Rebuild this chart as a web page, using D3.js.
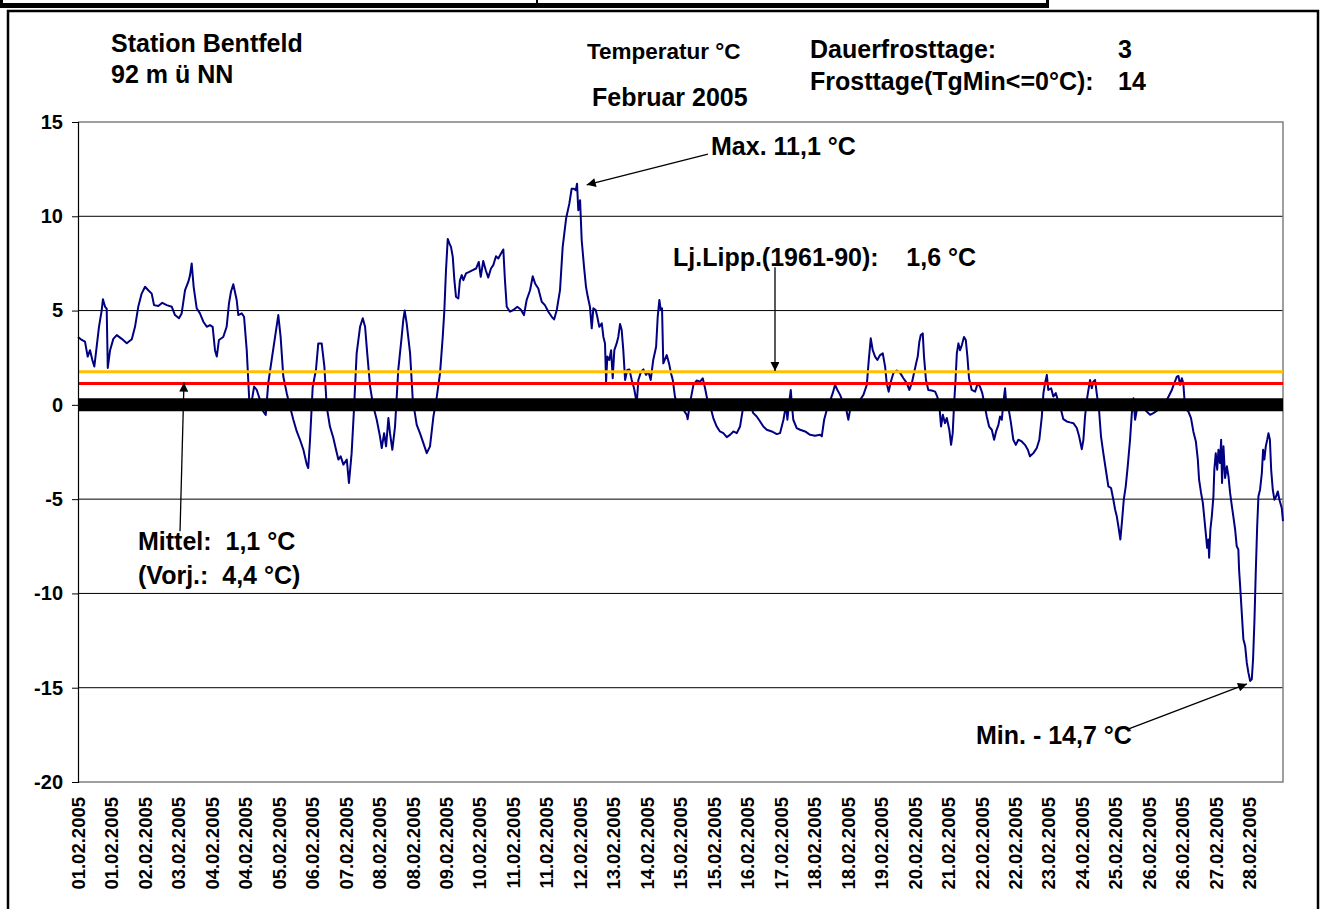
<!DOCTYPE html>
<html>
<head>
<meta charset="utf-8">
<script src="https://cdn.jsdelivr.net/npm/d3@7"></script>
<style>
  body { margin: 0; background: #fff; }
  svg { display: block; font-family: "Liberation Sans", Arial, sans-serif; font-weight: bold; }
  .note { white-space: pre; fill: #000; }
</style>
</head>
<body>
<svg id="chart" width="1325" height="909"></svg>
<script>
// hours since 01.02.2005 00:00 and temperature (°C)
const hours = [
  0, 2.1, 3.9, 5.4, 6.7, 8.0, 9.1, 10.4, 11.7, 13.2, 13.9, 15.1, 16.0, 16.6, 17.9, 19.7, 21.6, 24.4, 27.2, 30.0,
  31.8, 33.6, 35.5, 37.4, 39.2, 41.1, 42.4, 44.8, 47.0, 49.5, 52.3, 54.1, 56.3, 57.8, 59.7, 61.5, 62.5, 63.4, 64.5, 66.2,
  68.0, 69.9, 71.8, 73.6, 75.1, 76.4, 77.4, 78.6, 81.0, 82.9, 84.2, 85.3, 86.6, 88.5, 89.4, 91.3, 92.6, 94.1, 95.5, 96.9,
  98.2, 99.7, 101.5, 103.3, 104.7, 106.1, 108.0, 109.9, 111.7, 113.0, 114.5, 116.4, 118.2, 120.1, 122.0, 123.8, 125.7, 127.6, 128.4, 129.4,
  130.9, 132.7, 134.0, 135.9, 137.4, 138.7, 140.5, 142.4, 143.9, 145.2, 146.5, 148.0, 149.9, 151.1, 152.6, 153.9, 155.4, 157.3, 158.8, 160.1,
  161.3, 162.9, 164.7, 166.6, 168.4, 169.4, 170.7, 171.8, 173.1, 174.0, 175.3, 176.8, 178.6, 180.5, 181.4, 182.2, 183.3, 185.2, 186.7, 188.9,
  190.7, 192.6, 194.5, 196.3, 198.2, 200.1, 201.9, 203.4, 204.3, 205.2, 206.2, 207.1, 208.0, 209.0, 209.9, 210.8, 212.1, 213.0, 214.0, 214.9,
  216.4, 218.2, 220.1, 222.0, 223.5, 224.6, 226.0, 227.4, 228.8, 230.3, 231.6, 233.1, 234.4, 235.9, 237.2, 238.1, 239.1, 240.9, 242.8, 245.0,
  246.9, 248.7, 250.2, 252.1, 253.6, 254.9, 256.7, 258.6, 260.4, 262.3, 264.2, 265.5, 267.0, 268.8, 270.3, 272.2, 274.0, 275.3, 276.6, 277.6,
  278.3, 279.0, 280.0, 280.9, 282.2, 283.3, 284.3, 285.5, 286.5, 287.4, 288.7, 289.6, 290.7, 292.1, 293.0, 293.9, 294.5, 295.2, 296.3, 297.3,
  298.2, 299.1, 300.4, 301.3, 302.3, 303.2, 304.1, 305.1, 306.3, 307.5, 308.8, 310.1, 311.6, 312.5, 314.0, 315.3, 316.8, 318.1, 319.4, 320.8,
  322.4, 323.3, 324.2, 325.0, 325.7, 326.4, 328.3, 329.6, 330.7, 331.7, 332.9, 334.2, 335.7, 337.6, 339.5, 340.0, 341.3, 343.2, 345.0, 346.9,
  348.4, 349.7, 351.0, 352.9, 354.3, 356.2, 358.0, 359.9, 361.8, 363.6, 365.5, 367.4, 369.2, 371.0, 372.6, 373.8, 375.2, 376.6, 378.5, 380.4,
  382.2, 384.1, 386.9, 389.7, 391.5, 393.4, 394.9, 395.6, 396.7, 397.5, 398.2, 398.9, 400.8, 402.7, 405.5, 408.3, 411.0, 413.8, 414.8, 416.1,
  417.6, 419.0, 420.9, 422.2, 423.5, 425.0, 426.8, 428.3, 429.6, 430.9, 432.4, 434.3, 436.1, 438.0, 439.9, 441.0, 442.1, 443.2, 444.5, 445.8,
  447.3, 448.8, 450.1, 451.0, 452.1, 453.3, 454.7, 456.6, 458.4, 460.3, 462.2, 463.6, 465.0, 466.2, 467.4, 468.3, 469.2, 470.0, 471.1, 471.8,
  472.9, 474.2, 476.1, 478.0, 479.2, 480.4, 481.3, 482.3, 483.5, 484.5, 485.9, 486.9, 487.8, 488.6, 489.3, 490.1, 491.0, 491.9, 492.9, 494.1,
  495.1, 496.0, 496.9, 498.4, 500.3, 501.8, 503.0, 504.3, 505.4, 506.8, 508.1, 509.6, 510.9, 512.0, 513.3, 514.2, 515.2, 516.0, 517.0, 517.9,
  518.8, 520.3, 521.6, 523.0, 524.4, 526.3, 528.1, 529.7, 530.9, 532.8, 534.7, 536.1, 537.5, 538.4, 539.3, 540.3, 541.1, 542.7, 543.9, 545.3,
  546.7, 548.2, 549.5, 551.4, 553.2, 555.1, 557.0, 558.3, 559.8, 560.7, 561.6, 562.6, 563.5, 564.4, 565.4, 566.2, 567.2, 568.1, 569.4, 570.5,
  571.8, 573.2, 574.6, 576.1, 577.4, 578.4, 579.3, 580.2, 581.3, 582.3, 583.2, 584.3, 585.4, 586.7, 587.7, 588.6, 589.5, 590.5, 591.7, 592.9,
  594.1, 596.0, 597.9, 599.7, 602.5, 605.3, 607.7, 610.0, 611.4, 612.8, 613.7, 614.6, 615.6, 616.4, 617.4, 619.2, 620.7, 622.0, 623.4, 624.5,
  625.2, 626.3, 627.3, 628.2, 629.1, 629.7, 630.4, 630.8, 631.5, 632.3, 633.2, 633.7, 634.5, 635.3, 636.0, 636.8, 637.5, 638.0, 638.8, 639.7,
  640.7, 641.6, 642.5, 643.5, 644.3, 645.3, 646.2, 647.1, 647.5, 648.1, 649.0, 649.9, 650.9, 651.8, 652.7, 653.7, 654.6, 655.3, 656.1, 656.8,
  657.6, 658.3, 659.2, 660.2, 660.9, 661.6, 662.4, 663.2, 663.9, 664.7, 665.4, 666.3, 667.2, 668.2, 669.1, 670.0, 671.3, 672.0
];
const temps = [
  3.6, 3.44, 3.35, 2.56, 2.9, 2.38, 2.03, 3.08, 4.14, 5.0, 5.6, 5.2, 5.1, 1.96, 2.9, 3.5, 3.7, 3.5, 3.27, 3.48,
  4.14, 5.2, 5.9, 6.26, 6.08, 5.9, 5.29, 5.24, 5.41, 5.29, 5.2, 4.76, 4.59, 4.85, 6.08, 6.52, 6.88, 7.5, 6.26, 5.12,
  4.85, 4.41, 4.14, 4.23, 4.14, 2.9, 2.56, 3.44, 3.6, 4.14, 5.38, 6.0, 6.4, 5.56, 4.76, 4.85, 4.67, 2.9, 0.26, 0.18,
  0.97, 0.79, 0.26, -0.35, -0.53, 1.15, 2.38, 3.6, 4.76, 3.6, 1.5, 0.62, -0.09, -0.79, -1.41, -1.85, -2.38, -3.17, -3.35, -1.85,
  0.97, 1.85, 3.26, 3.26, 2.03, -0.09, -1.15, -1.76, -2.38, -2.9, -2.73, -3.17, -2.9, -4.14, -2.56, -0.26, 2.73, 4.14, 4.59, 4.14,
  2.73, 0.97, -0.09, -0.79, -1.67, -2.29, -1.5, -2.2, -0.7, -1.5, -2.38, -1.15, 1.85, 3.6, 4.5, 5.0, 4.32, 2.73, 0.26, -1.06,
  -1.5, -2.03, -2.56, -2.2, -0.62, 0.44, 1.68, 3.6, 5.0, 7.1, 8.8, 8.56, 8.38, 7.85, 6.61, 5.73, 5.64, 6.61, 6.88, 6.61,
  6.97, 7.05, 7.14, 7.23, 7.58, 6.79, 7.63, 7.14, 6.75, 7.23, 7.41, 7.88, 7.76, 8.03, 8.24, 6.61, 5.2, 4.94, 5.03, 5.2,
  5.06, 4.76, 5.56, 6.08, 6.82, 6.44, 6.17, 5.47, 5.29, 4.94, 4.67, 4.53, 5.03, 6.08, 8.38, 9.88, 10.67, 11.46, 11.46, 11.38,
  11.73, 10.32, 10.85, 8.73, 7.32, 6.26, 5.73, 5.2, 4.06, 5.12, 5.03, 4.67, 4.14, 4.32, 3.6, 3.26, 1.23, 2.56, 2.38, 2.9,
  1.41, 2.9, 3.26, 3.6, 4.29, 3.97, 2.9, 1.32, 1.85, 1.88, 1.32, 0.88, 0.09, 1.32, 1.76, 1.88, 1.59, 1.76, 1.32, 2.38,
  3.08, 4.67, 5.56, 5.03, 5.12, 2.2, 2.64, 2.2, 1.68, 1.32, 0.44, -0.09, 0, -0.26, -0.53, -0.76, 0.09, 1.06, 1.29, 1.23,
  1.41, 0.88, 0.26, -0.18, -0.7, -1.15, -1.41, -1.5, -1.71, -1.59, -1.41, -1.5, -1.15, -0.09, 0.09, -0.26, -0.09, -0.44, -0.62, -0.88,
  -1.15, -1.32, -1.41, -1.55, -1.5, -0.79, 0, -0.79, 0.18, 0.79, -0.09, -0.79, -1.23, -1.32, -1.41, -1.59, -1.64, -1.59, -1.67, -0.79,
  -0.26, 0.09, 0.62, 1.06, 0.79, 0.53, 0.09, -0.18, -0.79, -0.09, -0.18, 0.09, 0.26, 0.53, 1.06, 2.38, 3.53, 2.9, 2.56, 2.38,
  2.64, 2.73, 2.03, 1.15, 0.7, 1.23, 1.68, 1.82, 1.71, 1.41, 1.15, 0.79, 1.15, 1.68, 2.2, 2.56, 3.35, 3.7, 3.79, 2.56,
  1.32, 0.79, 0.76, 0.7, 0.44, -0.09, -1.15, -0.53, -0.97, -0.7, -1.32, -2.12, -1.5, 0.09, 1.15, 2.73, 3.26, 2.9, 3.17, 3.6,
  3.44, 2.56, 1.41, 0.79, 0.7, 1.15, 0.97, 0.62, 0.09, -0.62, -1.15, -1.32, -1.85, -1.41, -1.06, -0.62, -0.79, 0.09, 0.88, -0.26,
  -0.09, -0.97, -1.85, -2.12, -1.85, -1.94, -2.12, -2.38, -2.73, -2.56, -2.29, -1.85, -0.62, 0.62, 1.15, 1.59, 0.79, 0.88, 0.44, 0.62,
  0.18, -0.26, -0.76, -0.88, -0.93, -0.97, -1.23, -1.67, -2.35, -1.85, -0.62, 0.26, 0.79, 1.32, 0.88, 1.23, 1.32, 0.62, -0.26, -1.67,
  -2.56, -3.44, -4.32, -4.41, -5.03, -5.56, -5.91, -6.44, -7.14, -6.08, -5.03, -4.32, -3.26, -1.85, -0.44, 0.35, -0.79, -0.26, -0.09, 0.05,
  -0.18, -0.35, -0.53, -0.44, -0.26, 0, 0.35, 0.79, 1.15, 1.5, 1.53, 1.06, 1.41, 1.15, -0.18, -0.35, -0.7, -1.41, -1.94, -2.9,
  -3.97, -4.67, -5.2, -6.08, -6.97, -7.58, -7.14, -8.11, -6.61, -5.91, -4.85, -3.44, -2.56, -3.44, -2.38, -3.08, -1.85, -4.14, -2.2, -3.88,
  -3.26, -3.79, -4.67, -5.38, -5.91, -6.61, -7.5, -7.67, -8.73, -9.61, -11.02, -12.43, -12.79, -13.67, -14.2, -14.64, -14.55, -13.5, -11.38, -8.91,
  -6.44, -4.85, -4.5, -3.62, -2.38, -2.9, -2.2, -1.85, -1.5, -1.85, -3.44, -4.5, -5.03, -4.85, -4.59, -5.03, -5.47, -6.17
];

const tickLabels = [
  '01.02.2005', '01.02.2005', '02.02.2005', '03.02.2005', '04.02.2005', '04.02.2005', '05.02.2005', '06.02.2005', '07.02.2005',
  '08.02.2005', '08.02.2005', '09.02.2005', '10.02.2005', '11.02.2005', '11.02.2005', '12.02.2005', '13.02.2005', '14.02.2005',
  '15.02.2005', '15.02.2005', '16.02.2005', '17.02.2005', '18.02.2005', '18.02.2005', '19.02.2005', '20.02.2005', '21.02.2005',
  '22.02.2005', '22.02.2005', '23.02.2005', '24.02.2005', '25.02.2005', '26.02.2005', '26.02.2005', '27.02.2005', '28.02.2005'
];
const yTicks = [-20, -15, -10, -5, 0, 5, 10, 15];

// reference lines as drawn in the picture
const ljLippLevel = 1.75;
const mittelLevel = 1.13;

const width = 1325, height = 909;
const plot = { left: 78, right: 1283, top: 122, bottom: 782 };

const svg = d3.select('#chart');

const x = d3.scaleLinear().domain([0, 672]).range([plot.left, plot.right]);
const y = d3.scaleLinear().domain([-20, 15]).range([plot.bottom, plot.top]);

// cut-off title box and outer frame
svg.append('rect').attr('x', 0).attr('y', 3).attr('width', 1049).attr('height', 5).attr('fill', '#000');
svg.append('rect').attr('x', 0).attr('y', 0).attr('width', 3).attr('height', 8).attr('fill', '#000');
svg.append('rect').attr('x', 1046).attr('y', 0).attr('width', 3).attr('height', 8).attr('fill', '#000');
svg.append('rect').attr('x', 536).attr('y', 0).attr('width', 2).attr('height', 5).attr('fill', '#000');
svg.append('rect')
    .attr('x', 8).attr('y', 11)
    .attr('width', 1310).attr('height', 920)
    .attr('fill', 'none').attr('stroke', '#000').attr('stroke-width', 2.5);

// grid lines
svg.append('g')
    .selectAll('line')
    .data(yTicks.filter(d => d !== -20 && d !== 15 && d !== 0))
    .enter()
    .append('line')
    .attr('x1', plot.left).attr('x2', plot.right)
    .attr('y1', d => y(d)).attr('y2', d => y(d))
    .attr('stroke', '#000').attr('stroke-width', 1);

// plot border (grey)
svg.append('path')
    .attr('d', 'M' + plot.left + ',' + plot.top + 'H' + plot.right + 'V' + plot.bottom + 'H' + plot.left)
    .attr('fill', 'none').attr('stroke', '#808080').attr('stroke-width', 1.5);

// temperature line
const line = d3.line()
    .x((d, i) => x(hours[i]))
    .y(d => y(d));

svg.append('path')
    .datum(temps)
    .attr('d', line)
    .attr('fill', 'none')
    .attr('stroke', '#000080')
    .attr('stroke-width', 2)
    .attr('stroke-linejoin', 'round');

// reference lines
svg.append('line')
    .attr('x1', plot.left).attr('x2', plot.right)
    .attr('y1', y(ljLippLevel)).attr('y2', y(ljLippLevel))
    .attr('stroke', '#FFC000').attr('stroke-width', 3);
svg.append('line')
    .attr('x1', plot.left).attr('x2', plot.right)
    .attr('y1', y(mittelLevel)).attr('y2', y(mittelLevel))
    .attr('stroke', '#FF0000').attr('stroke-width', 3);

// thick zero line (category axis)
svg.append('line')
    .attr('x1', plot.left).attr('x2', plot.right)
    .attr('y1', y(0)).attr('y2', y(0))
    .attr('stroke', '#000').attr('stroke-width', 13);

// y axis
const yAxis = d3.axisLeft(y)
    .tickValues(yTicks)
    .tickSize(6)
    .tickPadding(9)
    .tickFormat(d3.format('d'));

const yG = svg.append('g')
    .attr('transform', 'translate(' + plot.left + ',0)')
    .call(yAxis);
yG.select('.domain').attr('stroke', '#000').attr('stroke-width', 1.2);
yG.selectAll('.tick line').attr('stroke', '#000');
yG.selectAll('.tick text')
    .attr('font-size', '20px')
    .attr('font-weight', 'bold')
    .attr('font-family', '"Liberation Sans", Arial, sans-serif')
    .attr('fill', '#000')
    .text(d => d < 0 ? '-' + Math.abs(d) : d);

// x labels (rotated)
const step = 672 / tickLabels.length;
svg.append('g')
    .selectAll('text')
    .data(tickLabels)
    .enter()
    .append('text')
    .attr('transform', (d, i) => 'translate(' + (x(i * step) + 6.8) + ',797) rotate(-90)')
    .attr('text-anchor', 'end')
    .attr('font-size', '18.5px')
    .text(d => d);

// arrows (endpoints in data units: hours, °C)
svg.append('defs').append('marker')
    .attr('id', 'head')
    .attr('viewBox', '0 0 10 10')
    .attr('refX', 10).attr('refY', 5)
    .attr('markerWidth', 11).attr('markerHeight', 9)
    .attr('markerUnits', 'userSpaceOnUse')
    .attr('orient', 'auto')
    .append('path')
    .attr('d', 'M0,0L10,5L0,10Z')
    .attr('fill', '#000');

const arrows = [
  { from: [351.3, 13.3], to: [283.7, 11.67] },
  { from: [388.7, 7.3], to: [388.7, ljLippLevel + 0.05] },
  { from: [56.9, -6.7], to: [59.1, mittelLevel + 0.05] },
  { from: [585.6, -17.2], to: [651.9, -14.8] }
];

svg.append('g')
    .selectAll('line')
    .data(arrows)
    .enter()
    .append('line')
    .attr('x1', d => x(d.from[0])).attr('y1', d => y(d.from[1]))
    .attr('x2', d => x(d.to[0])).attr('y2', d => y(d.to[1]))
    .attr('stroke', '#000').attr('stroke-width', 1.3)
    .attr('marker-end', 'url(#head)');

// annotations
const notes = [
  { text: 'Station Bentfeld', x: 111, y: 52 },
  { text: '92 m ü NN', x: 111, y: 83 },
  { text: 'Temperatur °C', x: 587, y: 59, size: 22.5 },
  { text: 'Februar 2005', x: 592, y: 106 },
  { text: 'Dauerfrosttage:', x: 810, y: 58 },
  { text: '3', x: 1118, y: 58 },
  { text: 'Frosttage(TgMin<=0°C):', x: 810, y: 90 },
  { text: '14', x: 1118, y: 90 },
  { text: 'Max. 11,1 °C', x: 711, y: 155 },
  { text: 'Lj.Lipp.(1961-90):    1,6 °C', x: 673, y: 266 },
  { text: 'Mittel:  1,1 °C', x: 138, y: 550 },
  { text: '(Vorj.:  4,4 °C)', x: 138, y: 584 },
  { text: 'Min. - 14,7 °C', x: 976, y: 744 }
];

svg.append('g')
    .selectAll('text')
    .data(notes)
    .enter()
    .append('text')
    .attr('class', 'note')
    .attr('x', d => d.x)
    .attr('y', d => d.y)
    .attr('font-size', d => (d.size || 25) + 'px')
    .text(d => d.text);
</script>
</body>
</html>
